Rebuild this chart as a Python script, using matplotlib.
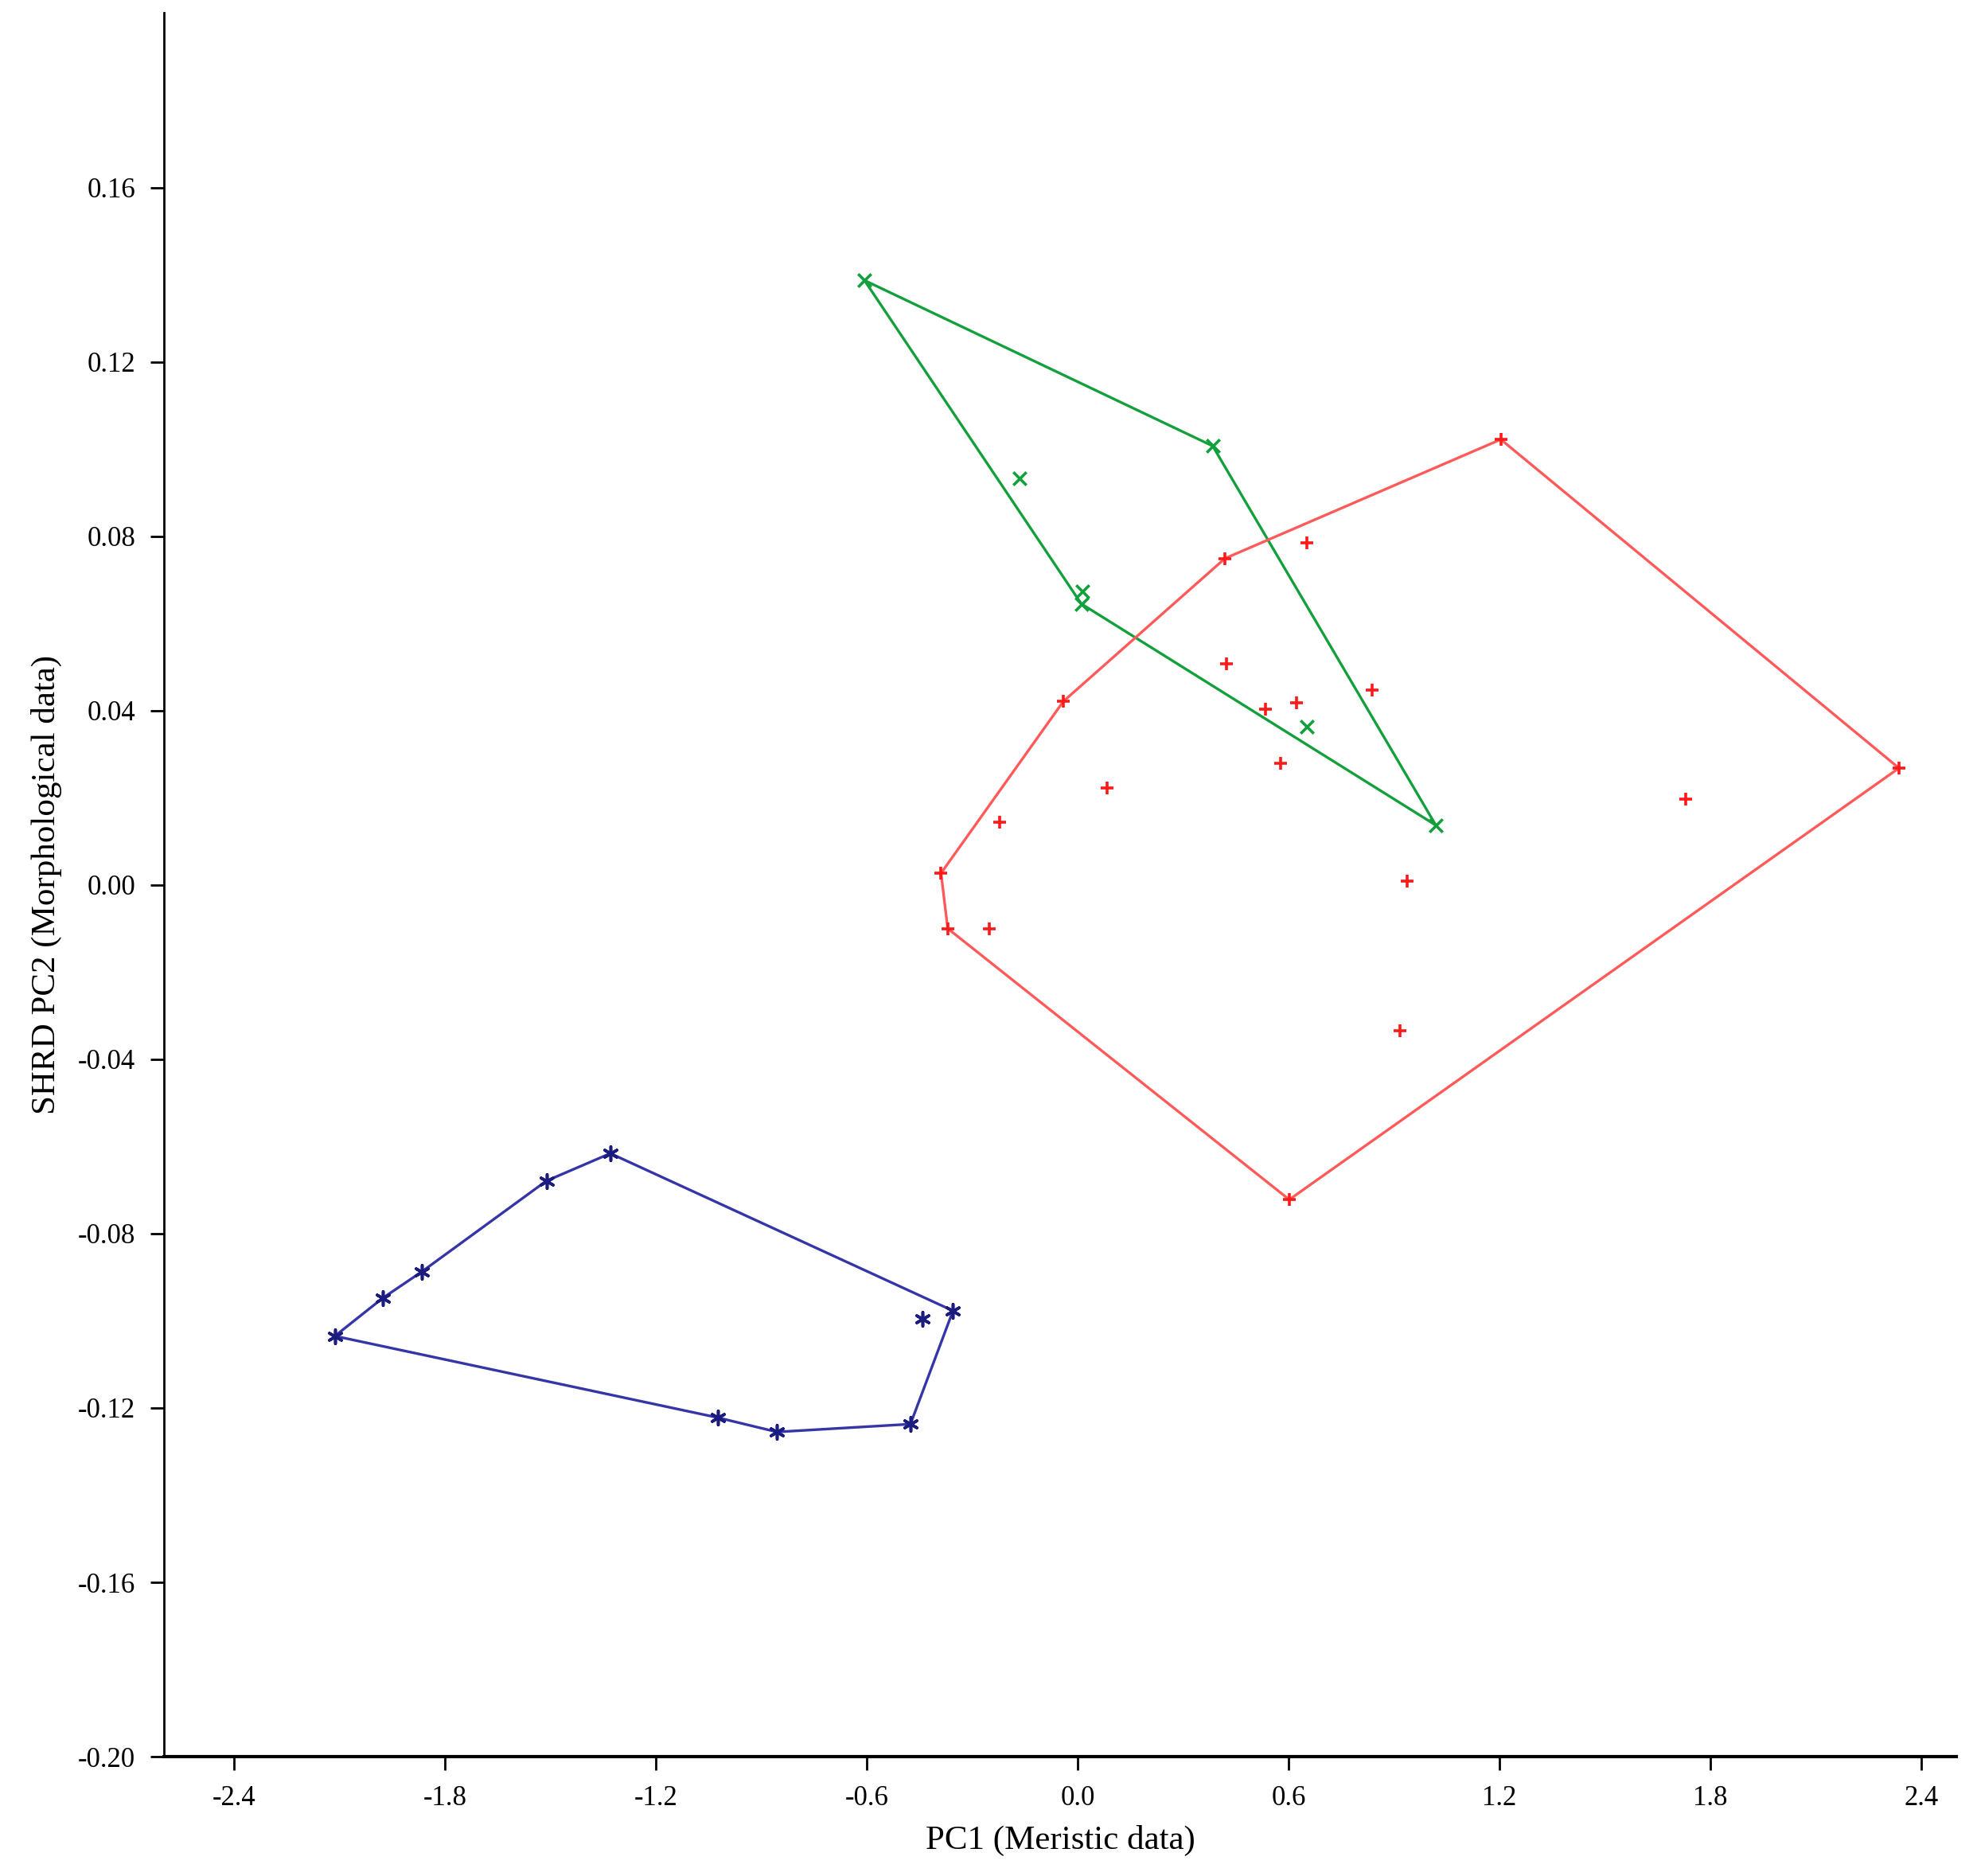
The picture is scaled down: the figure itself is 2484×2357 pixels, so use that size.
import matplotlib.pyplot as plt

plt.rcParams['font.family'] = ['Liberation Serif', 'DejaVu Serif']

# group 1 (green, x markers)
green_x = [-0.607, 0.384, -0.165, 0.014, 0.010, 0.652, 1.019]
green_y = [0.1387, 0.1007, 0.0933, 0.0673, 0.0645, 0.0363, 0.0137]
green_hull = [0, 1, 6, 4, 0]

# group 2 (red, + markers)
red_x = [1.204, 2.337, 0.602, -0.370, -0.389, -0.041, 0.419,
         0.653, 0.424, 0.837, 0.534, 0.623, 0.578, 0.084, -0.222,
         -0.252, 0.937, 1.729, 0.916]
red_y = [0.1022, 0.0268, -0.0722, -0.0100, 0.0027, 0.0421, 0.0749,
         0.0784, 0.0507, 0.0447, 0.0403, 0.0417, 0.0279, 0.0223, 0.0144,
         -0.0100, 0.0008, 0.0197, -0.0334]
red_hull = [0, 1, 2, 3, 4, 5, 6, 0]

# group 3 (blue, asterisk markers)
blue_x = [-2.114, -1.978, -1.866, -1.512, -1.330, -0.355, -0.476, -0.856, -1.025, -0.442]
blue_y = [-0.1035, -0.0948, -0.0887, -0.0679, -0.0616, -0.0977, -0.1237, -0.1255, -0.1222, -0.0995]
blue_hull = [0, 1, 2, 3, 4, 5, 6, 7, 8, 0]

x_ticks = [-2.4, -1.8, -1.2, -0.6, 0.0, 0.6, 1.2, 1.8, 2.4]
y_ticks = [-0.20, -0.16, -0.12, -0.08, -0.04, 0.00, 0.04, 0.08, 0.12, 0.16]

fig = plt.figure(figsize=(24.84, 23.57), dpi=100)
ax = fig.add_axes([0.083, 0.0636, 0.9065, 0.9294])

groups = [
    (green_x, green_y, green_hull, '#13a03c', '#13a03c', 'x', 14),
    (red_x, red_y, red_hull, '#ff5a5a', '#ff1a1a', '+', 13),
    (blue_x, blue_y, blue_hull, '#3535a8', '#1c1c80', (6, 2, 0), 16),
]
for xs, ys, hull, lc, mc, mk, ms in groups:
    ax.plot([xs[i] for i in hull], [ys[i] for i in hull], color=lc, linewidth=2.4, zorder=2)
    ax.scatter(xs, ys, marker=mk, s=ms * 10, color=mc, linewidths=2.6, zorder=3)

ax.set_xlim(-2.6, 2.5)
ax.set_ylim(-0.20, 0.20)
ax.set_xticks(x_ticks)
ax.set_xticklabels(['%.1f' % v for v in x_ticks])
ax.set_yticks(y_ticks)
ax.set_yticklabels(['%.2f' % v for v in y_ticks])

for s in ['top', 'right']:
    ax.spines[s].set_visible(False)
ax.spines['left'].set_linewidth(2.0)
ax.spines['bottom'].set_linewidth(3.0)
ax.tick_params(axis='both', direction='out', length=12, width=2, labelsize=25, pad=14)

ax.set_xlabel('PC1 (Meristic data)', fontsize=31, labelpad=12)
ax.set_ylabel('SHRD PC2 (Morphological data)', fontsize=31, labelpad=14)

fig.savefig('out.png', dpi=100)
